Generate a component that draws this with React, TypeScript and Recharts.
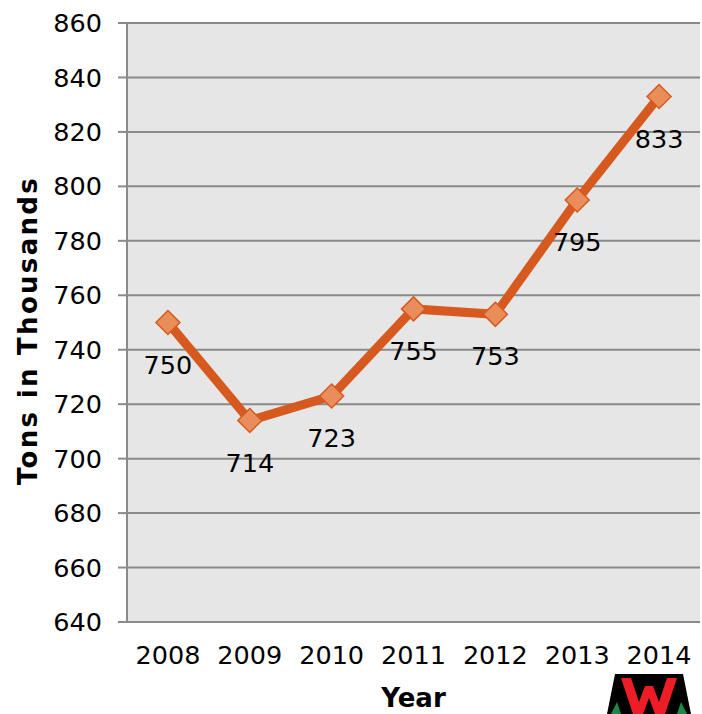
import React from 'react';
import { LineChart, Line, XAxis, YAxis, CartesianGrid, LabelList, Label } from 'recharts';

const years = ['2008', '2009', '2010', '2011', '2012', '2013', '2014'];
const tons = [750, 714, 723, 755, 753, 795, 833];
const yTicks = [640, 660, 680, 700, 720, 740, 760, 780, 800, 820, 840, 860];
const edgeTicks = [0, 1, 2, 3, 4, 5, 6, 7];

const data = years.map((y, i) => ({ year: y, value: tons[i] }));

const FONT = '"DejaVu Sans", Verdana, sans-serif';
const LINE = '#D65A1F';
const MARK = '#E98D5B';
const AXIS = '#8a8a8a';

const Diamond = (props: any) => {
  const { cx, cy } = props;
  if (cx == null || cy == null) return null;
  const r = 12;
  return (
    <polygon
      points={`${cx},${cy - r} ${cx + r},${cy} ${cx},${cy + r} ${cx - r},${cy}`}
      fill={MARK}
      stroke={LINE}
      strokeWidth={1.5}
    />
  );
};

const ValueLabel = (props: any) => {
  const { x, y, value } = props;
  return (
    <text x={x} y={y + 51} textAnchor="middle" fontSize={25.5} fill="#000" fontFamily={FONT}>
      {value}
    </text>
  );
};

const YTitle = (props: any) => {
  const vb = props.viewBox || {};
  const cy = vb.y + vb.height / 2 + 8;
  const cx = 37;
  return (
    <text
      x={cx}
      y={cy}
      transform={`rotate(-90 ${cx} ${cy})`}
      textAnchor="middle"
      fontSize={26}
      fontWeight="bold"
      letterSpacing={2.3}
      fill="#000"
      fontFamily={FONT}
    >
      Tons in Thousands
    </text>
  );
};

const Logo = () => (
  <svg width={84} height={40} style={{ position: 'absolute', left: 607, top: 674 }}>
    <polygon points="8,0 76,0 84,40 0,40" fill="#000" />
    <polygon points="4,40 10,28 14,40" fill="#1a8a4a" />
    <polygon points="70,40 74,28 80,40" fill="#1a8a4a" />
    <polygon
      points="14,4 24,4 32,28 38,12 46,12 52,28 60,4 70,4 58,40 48,40 42,24 36,40 26,40"
      fill="#ee1c25"
    />
  </svg>
);

export default function App() {
  return (
    <div style={{ position: 'absolute', left: 0, top: 0, width: 702, height: 714, background: '#fff' }}>
      <LineChart
        width={702}
        height={714}
        data={data}
        margin={{ top: 23, right: 2, bottom: 0, left: 0 }}
        style={{ fontFamily: FONT }}
      >
        <CartesianGrid
          xAxisId="cat"
          vertical={false}
          fill="#e6e6e6"
          stroke={AXIS}
          strokeWidth={2}
        />
        <XAxis
          xAxisId="edges"
          type="number"
          domain={[0, 7]}
          ticks={edgeTicks}
          height={0}
          tickSize={8}
          tickFormatter={() => ''}
          axisLine={false}
          tickLine={{ stroke: AXIS, strokeWidth: 2 }}
          allowDataOverflow
        />
        <XAxis
          xAxisId="cat"
          dataKey="year"
          scale="band"
          height={92}
          tickLine={false}
          tickSize={0}
          tickMargin={24}
          axisLine={{ stroke: AXIS, strokeWidth: 2 }}
          tick={{ fontSize: 25.5, fill: '#000', fontFamily: FONT }}
          interval={0}
        >
          <Label
            value="Year"
            position="insideBottom"
            offset={7}
            style={{ fontSize: 26, fontWeight: 'bold', fill: '#000', fontFamily: FONT }}
          />
        </XAxis>
        <YAxis
          domain={[640, 860]}
          ticks={yTicks}
          width={127}
          tickSize={9}
          tickMargin={16}
          axisLine={{ stroke: AXIS, strokeWidth: 2 }}
          tickLine={{ stroke: AXIS, strokeWidth: 2 }}
          tick={{ fontSize: 25.5, fill: '#000', fontFamily: FONT }}
          interval={0}
        >
          <Label content={YTitle} />
        </YAxis>
        <Line
          xAxisId="cat"
          dataKey="value"
          stroke={LINE}
          strokeWidth={9}
          dot={<Diamond />}
          activeDot={false}
          isAnimationActive={false}
        >
          <LabelList dataKey="value" content={ValueLabel} />
        </Line>
      </LineChart>
      <Logo />
    </div>
  );
}
